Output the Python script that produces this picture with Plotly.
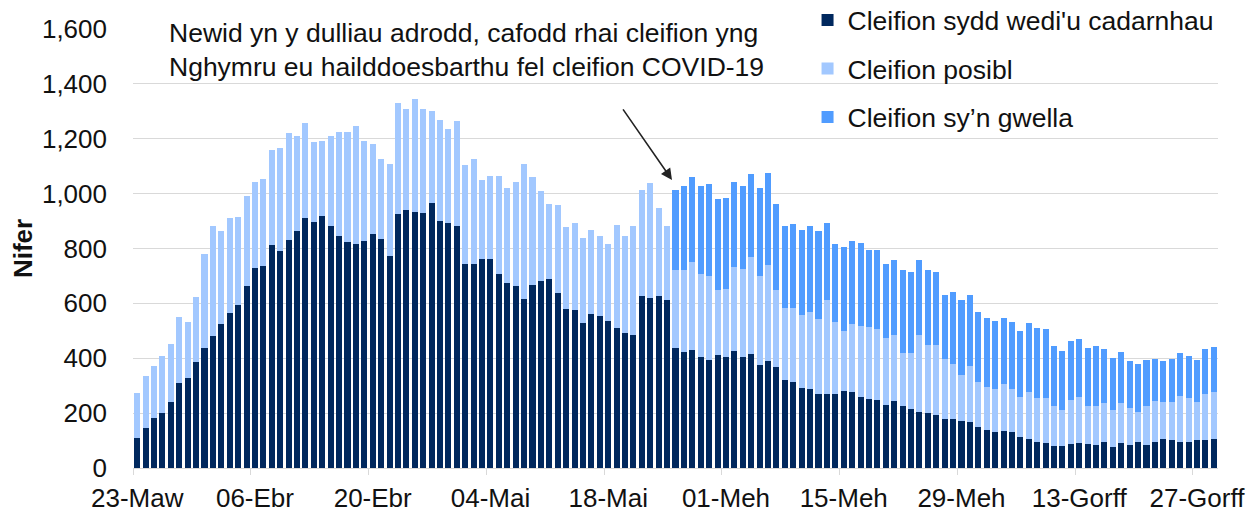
import pandas as pd
import plotly.graph_objects as go

# Categories: one bar per day from 23 March 2020
dates = pd.date_range("2020-03-23", periods=129, freq="D")

tick_dates = ["2020-03-23", "2020-04-06", "2020-04-20", "2020-05-04", "2020-05-18",
              "2020-06-01", "2020-06-15", "2020-06-29", "2020-07-13", "2020-07-27"]
tick_labels = ["23-Maw", "06-Ebr", "20-Ebr", "04-Mai", "18-Mai",
               "01-Meh", "15-Meh", "29-Meh", "13-Gorff", "27-Gorff"]

confirmed = [109, 147, 184, 201, 242, 309, 327, 386, 436, 482,
             525, 566, 595, 662, 729, 738, 814, 792, 831, 864,
             911, 898, 919, 881, 844, 822, 818, 827, 852, 835,
             772, 924, 940, 932, 928, 965, 902, 894, 881, 743,
             743, 763, 760, 708, 676, 662, 616, 666, 680, 688,
             637, 578, 575, 528, 561, 553, 537, 510, 491, 486,
             628, 621, 628, 613, 436, 423, 431, 406, 395, 411,
             406, 426, 406, 415, 377, 390, 368, 322, 313, 292,
             288, 271, 271, 271, 281, 276, 260, 252, 248, 230,
             243, 226, 214, 205, 201, 192, 180, 180, 173, 168,
             151, 140, 130, 134, 130, 113, 106, 95, 91, 79,
             79, 88, 91, 88, 84, 96, 76, 91, 84, 96,
             84, 96, 105, 101, 96, 96, 101, 101, 105]

possible = [164, 189, 188, 209, 211, 240, 205, 238, 345, 399,
            338, 345, 320, 329, 315, 316, 345, 374, 391, 345,
            345, 290, 273, 328, 382, 404, 429, 365, 328, 290,
            336, 405, 370, 414, 382, 335, 365, 340, 383, 360,
            382, 286, 305, 357, 344, 382, 491, 395, 330, 276,
            323, 300, 319, 311, 307, 294, 281, 375, 356, 395,
            387, 419, 320, 268, 285, 297, 319, 302, 306, 239,
            248, 308, 319, 355, 323, 351, 281, 260, 269, 266,
            282, 273, 340, 261, 217, 248, 259, 263, 259, 244,
            240, 194, 206, 278, 248, 257, 218, 198, 166, 205,
            163, 157, 159, 172, 159, 147, 171, 161, 165, 147,
            134, 160, 169, 138, 142, 142, 137, 147, 133, 109,
            142, 147, 134, 138, 167, 160, 138, 167, 172]

recovering = [None] * 64 + [
    294, 307, 311, 319, 334, 331, 331, 310, 302, 303,
    322, 335, 314, 301, 306, 308, 313, 319, 282, 284,
    306, 302, 302, 281, 289, 268, 276, 301, 294, 276,
    272, 265, 234, 264, 274, 259, 255, 248, 247, 239,
    243, 238, 252, 255, 252, 219, 215, 214, 211, 211,
    219, 194, 187, 183, 173, 173, 169, 156, 152, 160,
    156, 151, 156, 164, 164]

names = ["Cleifion sydd wedi'u cadarnhau", "Cleifion posibl", "Cleifion sy\u2019n gwella"]
colors = ["#00285E", "#A2C8FF", "#509CFF"]
series = [confirmed, possible, recovering]

FONT = "Liberation Sans, Arial, sans-serif"
TXT = "#111111"

fig = go.Figure()
for i, (nm, col, vals) in enumerate(zip(names, colors, series)):
    fig.add_trace(go.Bar(
        x=dates, y=vals, name=nm, marker=dict(color=col, line=dict(width=0)),
        legendgroup=f"g{i}",
    ))

# the page body adds an 8px offset, so the figure is sized to fit the window
fig.update_layout(
    barmode="stack",
    bargap=0.28,
    width=1252, height=504,
    margin=dict(l=125, r=42, t=21, b=44, autoexpand=False),
    plot_bgcolor="white", paper_bgcolor="white",
    font=dict(family=FONT, size=26, color=TXT),
    showlegend=True,
    legend=dict(
        x=0.6217, y=1.0745, xanchor="left", yanchor="top",
        bgcolor="rgba(0,0,0,0)", traceorder="grouped", tracegroupgap=11,
        font=dict(family=FONT, size=26.5, color=TXT),
        itemwidth=30,
    ),
)

fig.update_xaxes(
    type="date",
    range=["2020-03-22 12:00", "2020-07-29 12:00"],
    tickmode="array", tickvals=tick_dates, ticktext=tick_labels,
    ticks="", showgrid=False,
    showline=True, linecolor="#d9d9d9", linewidth=1,
    tickfont=dict(family=FONT, size=26, color=TXT),
    ticklabelstandoff=7,
    minor=dict(ticks="outside", ticklen=6, tickcolor="#d9d9d9",
               tick0="2020-03-22 12:00", dtick=14 * 86400000, showgrid=False),
)

fig.update_yaxes(
    range=[0, 1600], tickmode="linear", tick0=0, dtick=200,
    tickformat=",d",
    showgrid=True, gridcolor="#d9d9d9", gridwidth=1,
    zeroline=False, showline=False, ticks="",
    tickfont=dict(family=FONT, size=26, color=TXT),
    ticklabelstandoff=25,
    title=dict(text="<b>Nifer</b>", font=dict(family=FONT, size=26, color=TXT), standoff=8),
)

fig.add_annotation(
    xref="paper", yref="paper", x=0.0312, y=0.953, xanchor="left", yanchor="middle",
    text="Newid yn y dulliau adrodd, cafodd rhai cleifion yng<br>Nghymru eu hailddoesbarthu fel cleifion COVID-19",
    showarrow=False, align="left",
    font=dict(family=FONT, size=26.5, color=TXT),
)

fig.add_annotation(
    xref="x", yref="y", x="2020-05-25 14:00", y=1050,
    text="", showarrow=True, axref="pixel", ayref="pixel", ax=-50, ay=-72,
    arrowhead=2, arrowsize=1.4, arrowwidth=1.6, arrowcolor="#222222",
)

fig.write_html("out.html")
